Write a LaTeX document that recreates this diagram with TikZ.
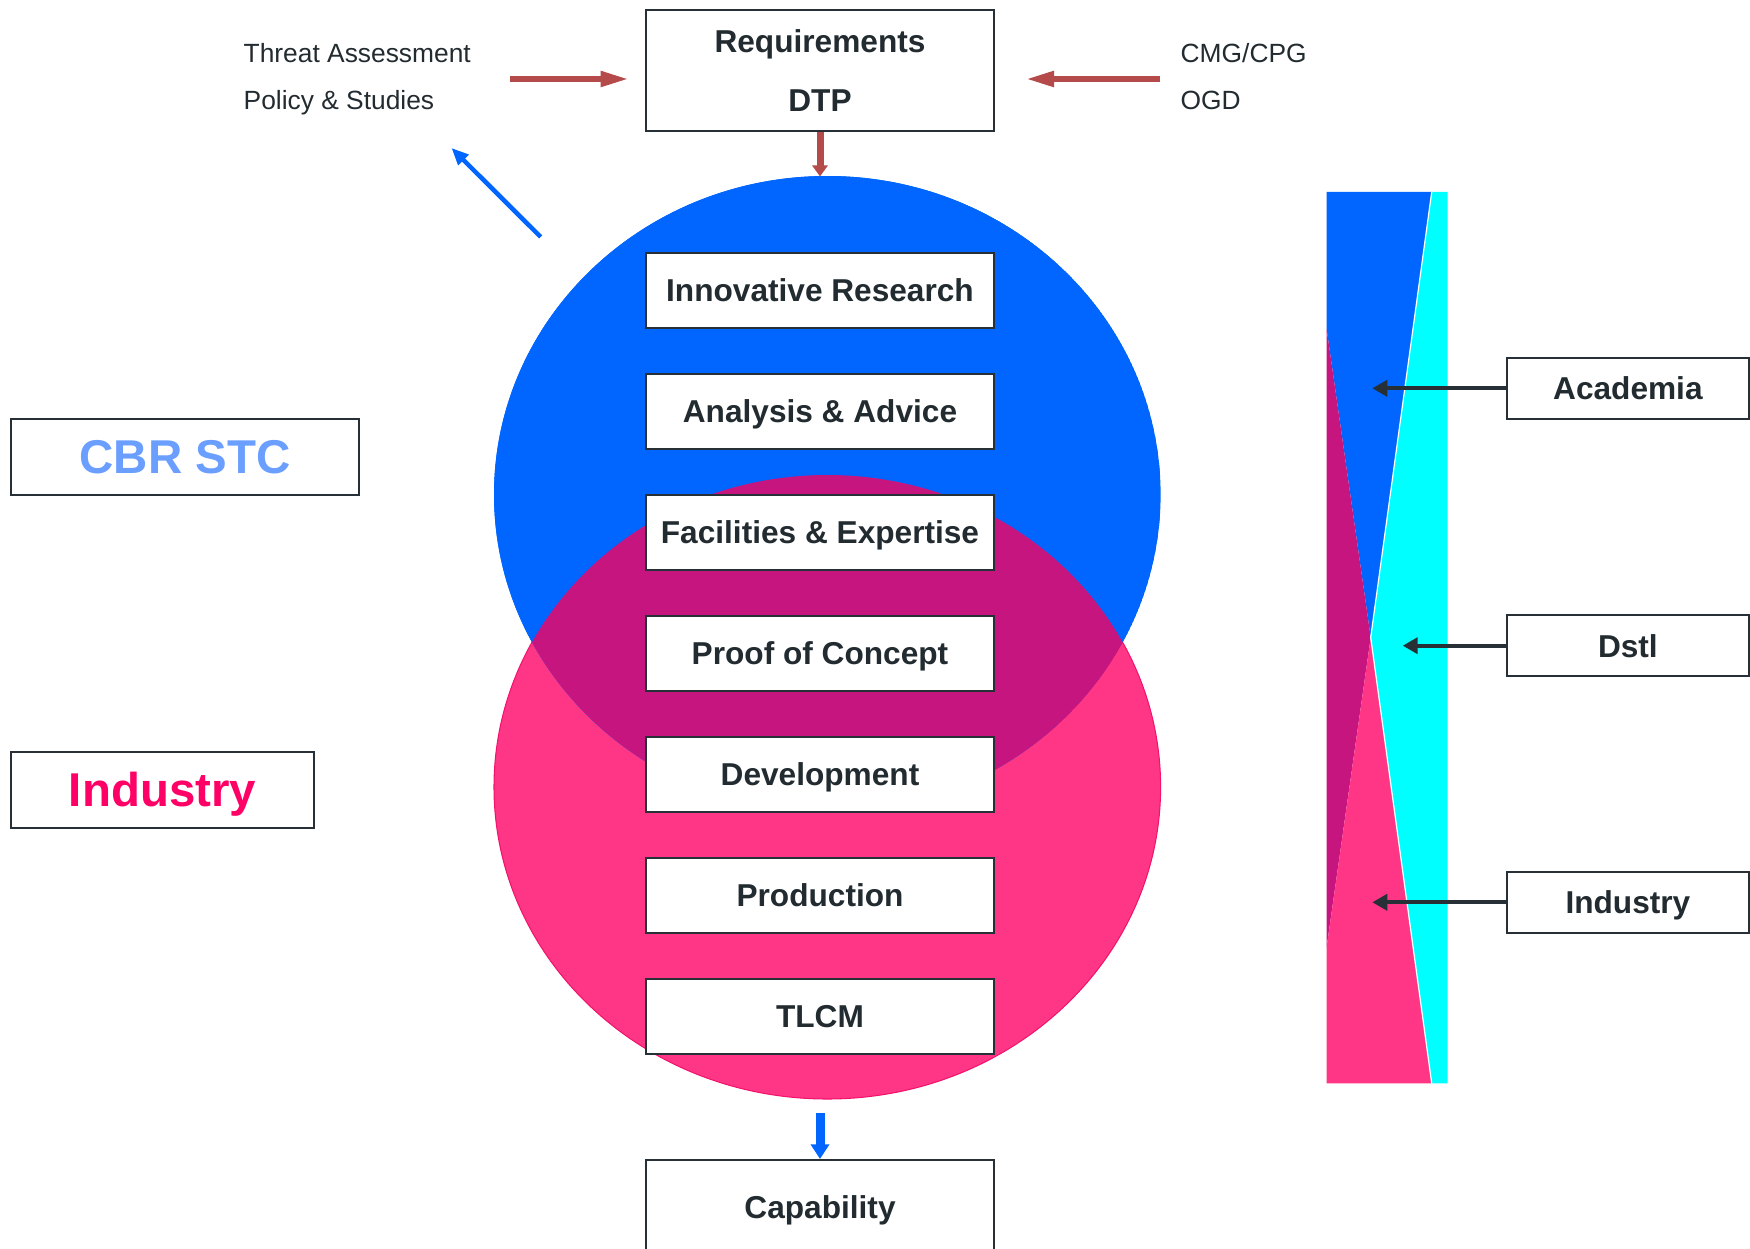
\documentclass[tikz,border=0pt]{standalone}
\usepackage{fontspec}
\setmainfont{Liberation Sans}
\usetikzlibrary{arrows.meta}
\definecolor{cblue}{HTML}{0066FF}
\definecolor{cpink}{HTML}{FF3686}
\definecolor{cpinkedge}{HTML}{F2136D}
\definecolor{cpurple}{HTML}{C71580}
\definecolor{ccyan}{HTML}{00FFFF}
\definecolor{ctext}{HTML}{222B30}
\definecolor{cedge}{HTML}{263036}
\definecolor{cred}{HTML}{B54A4A}
\definecolor{clblue}{HTML}{6A9EFF}
\definecolor{cind}{HTML}{FF0066}
\begin{document}
\begin{tikzpicture}[x=0.1mm,y=-0.1mm,
  stagebox/.style={draw=cedge, line width=0.2mm, fill=white, inner sep=0pt,
    minimum width=34.8mm, minimum height=7.55mm, text=ctext,
    font=\fontsize{9pt}{10.8pt}\selectfont\bfseries, text height=6.44pt, text depth=0pt},
  sidebox/.style={stagebox, minimum width=24.12mm, minimum height=6.05mm},
  reqbox/.style={draw=cedge, line width=0.2mm, fill=white, inner sep=0pt,
    minimum width=34.8mm, minimum height=12.1mm, text=ctext, align=center,
    font=\fontsize{9pt}{16.6pt}\selectfont\bfseries},
  bigbox/.style={draw=cedge, line width=0.2mm, fill=white, inner sep=0pt,
    minimum height=7.57mm, font=\fontsize{13.5pt}{16pt}\selectfont\bfseries,
    text height=9.67pt, text depth=0pt},
  note/.style={inner sep=0pt, text=ctext, font=\fontsize{7.5pt}{9pt}\selectfont, anchor=base west},
  redarrow/.style={draw=cred, line width=0.67mm, -{Triangle[length=2.95mm,width=1.43mm]}},
  reddown/.style={draw=cred, line width=0.7mm, -{Triangle[length=1.1mm,width=1.5mm]}},
  bluediag/.style={draw=cblue, line width=0.45mm, -{Triangle[length=1.7mm,width=1.4mm]}},
  bluedown/.style={draw=cblue, line width=0.9mm, -{Triangle[length=1.47mm,width=1.8mm]}},
  blackarrow/.style={draw=cedge, line width=0.4mm, -{Triangle[length=1.5mm,width=1.6mm]}}
]
\useasboundingbox (0,0) rectangle (1750,1249);

% Venn ellipses
\fill[cblue] (827.3,494.5) ellipse [x radius=33.33mm, y radius=31.85mm];
\filldraw[fill=cpink, draw=cpinkedge, line width=0.3pt] (827.3,787) ellipse [x radius=33.33mm, y radius=31.2mm];
\begin{scope}
  \clip (827.3,494.5) ellipse [x radius=33.33mm, y radius=31.85mm];
  \fill[cblue] (827.3,494.5) ellipse [x radius=33.33mm, y radius=31.85mm];
  \fill[cpurple] (827.3,787) ellipse [x radius=33.33mm, y radius=31.2mm];
\end{scope}

% Requirements
\node[reqbox] (req) at (820,70.5) {Requirements\\DTP};

% stage boxes
\node[stagebox] (s1) at (820,290.4) {Innovative Research};
\node[stagebox] (s2) at (820,411.4) {Analysis \& Advice};
\node[stagebox] (s3) at (820,532.4) {Facilities \& Expertise};
\node[stagebox] (s4) at (820,653.4) {Proof of Concept};
\node[stagebox] (s5) at (820,774.4) {Development};
\node[stagebox] (s6) at (820,895.4) {Production};
\node[stagebox] (s7) at (820,1016.4) {TLCM};
\node[stagebox, minimum height=9.5mm] (cap) at (820,1207.5) {Capability};

% left boxes
\node[bigbox, minimum width=34.83mm, text=clblue] (cbr) at (185.15,456.85) {CBR STC};
\node[bigbox, minimum width=30.3mm, minimum height=7.6mm, text=cind] (ind) at (162.5,789.7) {Industry};

% notes
\node[note] (ta1) at (243,62.7) {Threat Assessment};
\node[note] (ta2) at (243,110) {Policy \& Studies};
\node[note] (cm1) at (1180,62.7) {CMG/CPG};
\node[note] (cm2) at (1180,110) {OGD};

% arrows top
\coordinate (ra) at (510,79);
\coordinate (rb) at (630,79);
\draw[redarrow] (ra) -- (rb);
\coordinate (la) at (1160,79);
\coordinate (lb) at (1024.6,79);
\draw[redarrow] (la) -- (lb);
\coordinate (ctop) at (820,176.5);
\draw[reddown] (req.south) -- (ctop);
\coordinate (ba) at (540.7,237);
\coordinate (bb) at (451.5,148);
\draw[bluediag] (ba) -- (bb);
\coordinate (bd) at (820,1113);
\draw[bluedown] (bd) -- (cap.north);

% bar
\fill[cblue] (1326.7,192) -- (1431.7,192) -- (1370.7,637.5) -- (1326.7,329.3) -- cycle;
\fill[cpurple] (1326.7,329.3) -- (1370.7,637.5) -- (1326.7,946.7) -- cycle;
\fill[cpink] (1326.7,946.7) -- (1370.7,637.5) -- (1431.7,1083.3) -- (1326.7,1083.3) -- cycle;
\fill[ccyan] (1431.7,192) -- (1447.7,192) -- (1447.7,1083.3) -- (1431.7,1083.3) -- (1370.7,637.5) -- cycle;
\draw[white, line width=0.12mm] (1431.7,192) -- (1370.7,637.5) -- (1431.7,1083.3);

% right boxes
\node[sidebox] (aca) at (1627.9,388.3) {Academia};
\node[sidebox] (dst) at (1627.9,645.7) {Dstl};
\node[sidebox] (rind) at (1627.9,902.3) {Industry};
\coordinate (acat) at (1372.3,388.3);
\coordinate (dstt) at (1402.7,645.7);
\coordinate (rindt) at (1372.3,902.3);
\draw[blackarrow] (aca.west) -- (acat);
\draw[blackarrow] (dst.west) -- (dstt);
\draw[blackarrow] (rind.west) -- (rindt);
\end{tikzpicture}
\end{document}
